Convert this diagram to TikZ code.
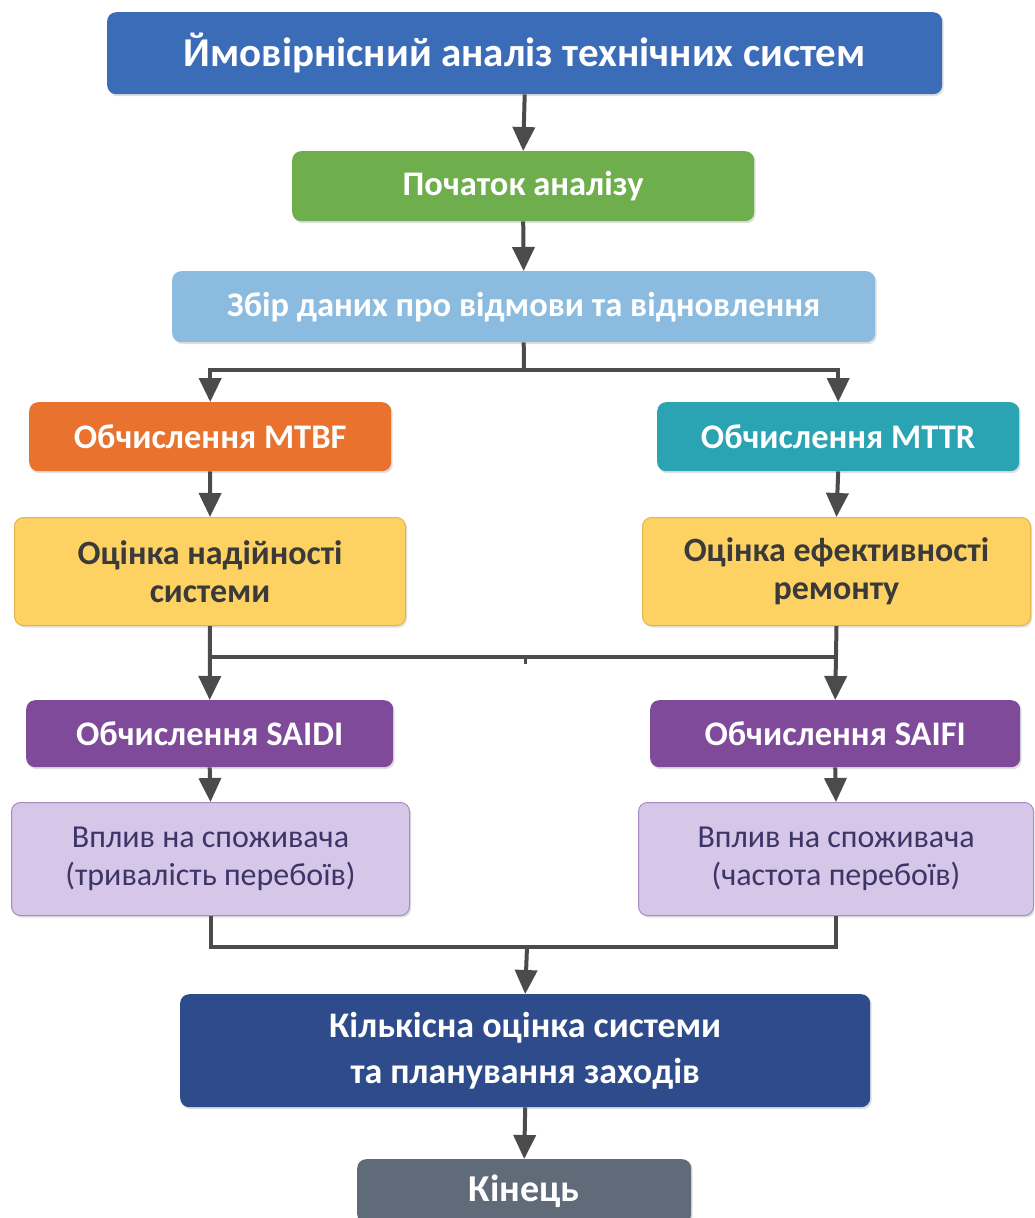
\documentclass[tikz,border=0pt]{standalone}
\usepackage{fontspec}
\setmainfont{Carlito}
\usetikzlibrary{arrows.meta,shadows}
\definecolor{cTitle}{HTML}{3A6CB7}
\definecolor{cGreen}{HTML}{6FAE4C}
\definecolor{cLBlue}{HTML}{8BBCDF}
\definecolor{cOrange}{HTML}{E8722E}
\definecolor{cTeal}{HTML}{2AA3B3}
\definecolor{cYellow}{HTML}{FDD262}
\definecolor{cYellowB}{HTML}{E6B54A}
\definecolor{cPurple}{HTML}{7E4A99}
\definecolor{cLav}{HTML}{D6C6E8}
\definecolor{cLavB}{HTML}{A48CC0}
\definecolor{cDBlue}{HTML}{2E4C8C}
\definecolor{cGray}{HTML}{5F6B79}
\definecolor{cLine}{HTML}{4B4B4B}
\definecolor{cYText}{HTML}{3A3A3A}
\definecolor{cLText}{HTML}{3D3568}
\tikzset{
  box/.style={rounded corners=9pt, anchor=north west, inner sep=0pt, align=center,
    drop shadow={shadow xshift=1.5pt, shadow yshift=-2pt, opacity=0.25}},
  bw/.style={text=white, font=\bfseries\fontsize{34.5}{38}\selectfont},
  yb/.style={box, fill=cYellow, draw=cYellowB, line width=1pt, text=cYText, font=\bfseries\fontsize{34}{38}\selectfont},
  lb/.style={box, fill=cLav, draw=cLavB, line width=1pt, text=cLText, font=\fontsize{32}{38}\selectfont},
  conn/.style={draw=cLine, line width=4pt},
  arr/.style={conn, -{Triangle[length=24pt,width=22pt]}},
}
\begin{document}
\begin{tikzpicture}[x=1pt,y=-1pt]
\useasboundingbox (0,0) rectangle (1034,1218);
\clip (0,0) rectangle (1034,1218);
\fill[white] (0,0) rectangle (1034,1218);
\node[box, fill=cTitle, minimum width=835pt, minimum height=82pt, text=white, font=\bfseries\fontsize{41}{46}\selectfont] (t) at (107,12) {Ймовірнісний аналіз технічних систем};
\node[box, bw, fill=cGreen, minimum width=462pt, minimum height=70pt] (s) at (292,151) {Початок аналізу};
\node[box, bw, fill=cLBlue, minimum width=703pt, minimum height=71pt] (c) at (172,271) {Збір даних про відмови та відновлення};
\node[box, bw, fill=cOrange, minimum width=362pt, minimum height=69pt] (m1) at (29,402) {Обчислення MTBF};
\node[box, bw, fill=cTeal, minimum width=362pt, minimum height=69pt] (m2) at (657,402) {Обчислення MTTR};
\node[yb, minimum width=391pt, minimum height=108pt] (y1) at (14,517) {Оцінка надійності\\системи};
\node[yb, minimum width=388pt, minimum height=108pt] (y2) at (642,517) {Оцінка ефективності\\ремонту};
\node[box, bw, fill=cPurple, minimum width=367pt, minimum height=67pt] (sd) at (26,700) {Обчислення SAIDI};
\node[box, bw, fill=cPurple, minimum width=370pt, minimum height=67pt] (sf) at (650,700) {Обчислення SAIFI};
\node[lb, minimum width=398pt, minimum height=113pt] (l1) at (11,802) {Вплив на споживача\\(тривалість перебоїв)};
\node[lb, minimum width=395pt, minimum height=113pt] (l2) at (638,802) {Вплив на споживача\\(частота перебоїв)};
\node[box, fill=cDBlue, minimum width=690pt, minimum height=113pt, text=white, font=\bfseries\fontsize{36}{46}\selectfont] (q) at (180,994) {Кількісна оцінка системи\\та планування заходів};
\node[box, bw, fill=cGray, minimum width=334pt, minimum height=64pt, font=\bfseries\fontsize{38}{40}\selectfont] (e) at (357,1159) {Кінець};
\coordinate (j1) at (524,370);
\coordinate (j2) at (525,657);
\coordinate (j3) at (527,947);
\draw[arr] (t.south) -- (s.north);
\draw[arr] (s.south) -- (c.north);
\draw[conn] (c.south) -- (j1);
\draw[arr] (j1) -| (m1.north);
\draw[arr] (j1) -| (m2.north);
\draw[arr] (m1.south) -- (y1.north);
\draw[arr] (m2.south) -- (y2.north);
\draw[arr] (y1.south) -- (sd.north);
\draw[arr] (y2.south) -- (sf.north);
\draw[conn] (y1.south |- j2) -- (y2.south |- j2);
\draw[draw=cLine, line width=3pt] (j2) -- ++(0,7);
\draw[arr] (sd.south) -- (l1.north);
\draw[arr] (sf.south) -- (l2.north);
\draw[conn] (l1.south) |- (j3);
\draw[conn] (l2.south) |- (j3);
\draw[arr] (j3) -- (q.north);
\draw[arr] (q.south) -- (e.north);
\end{tikzpicture}
\end{document}
